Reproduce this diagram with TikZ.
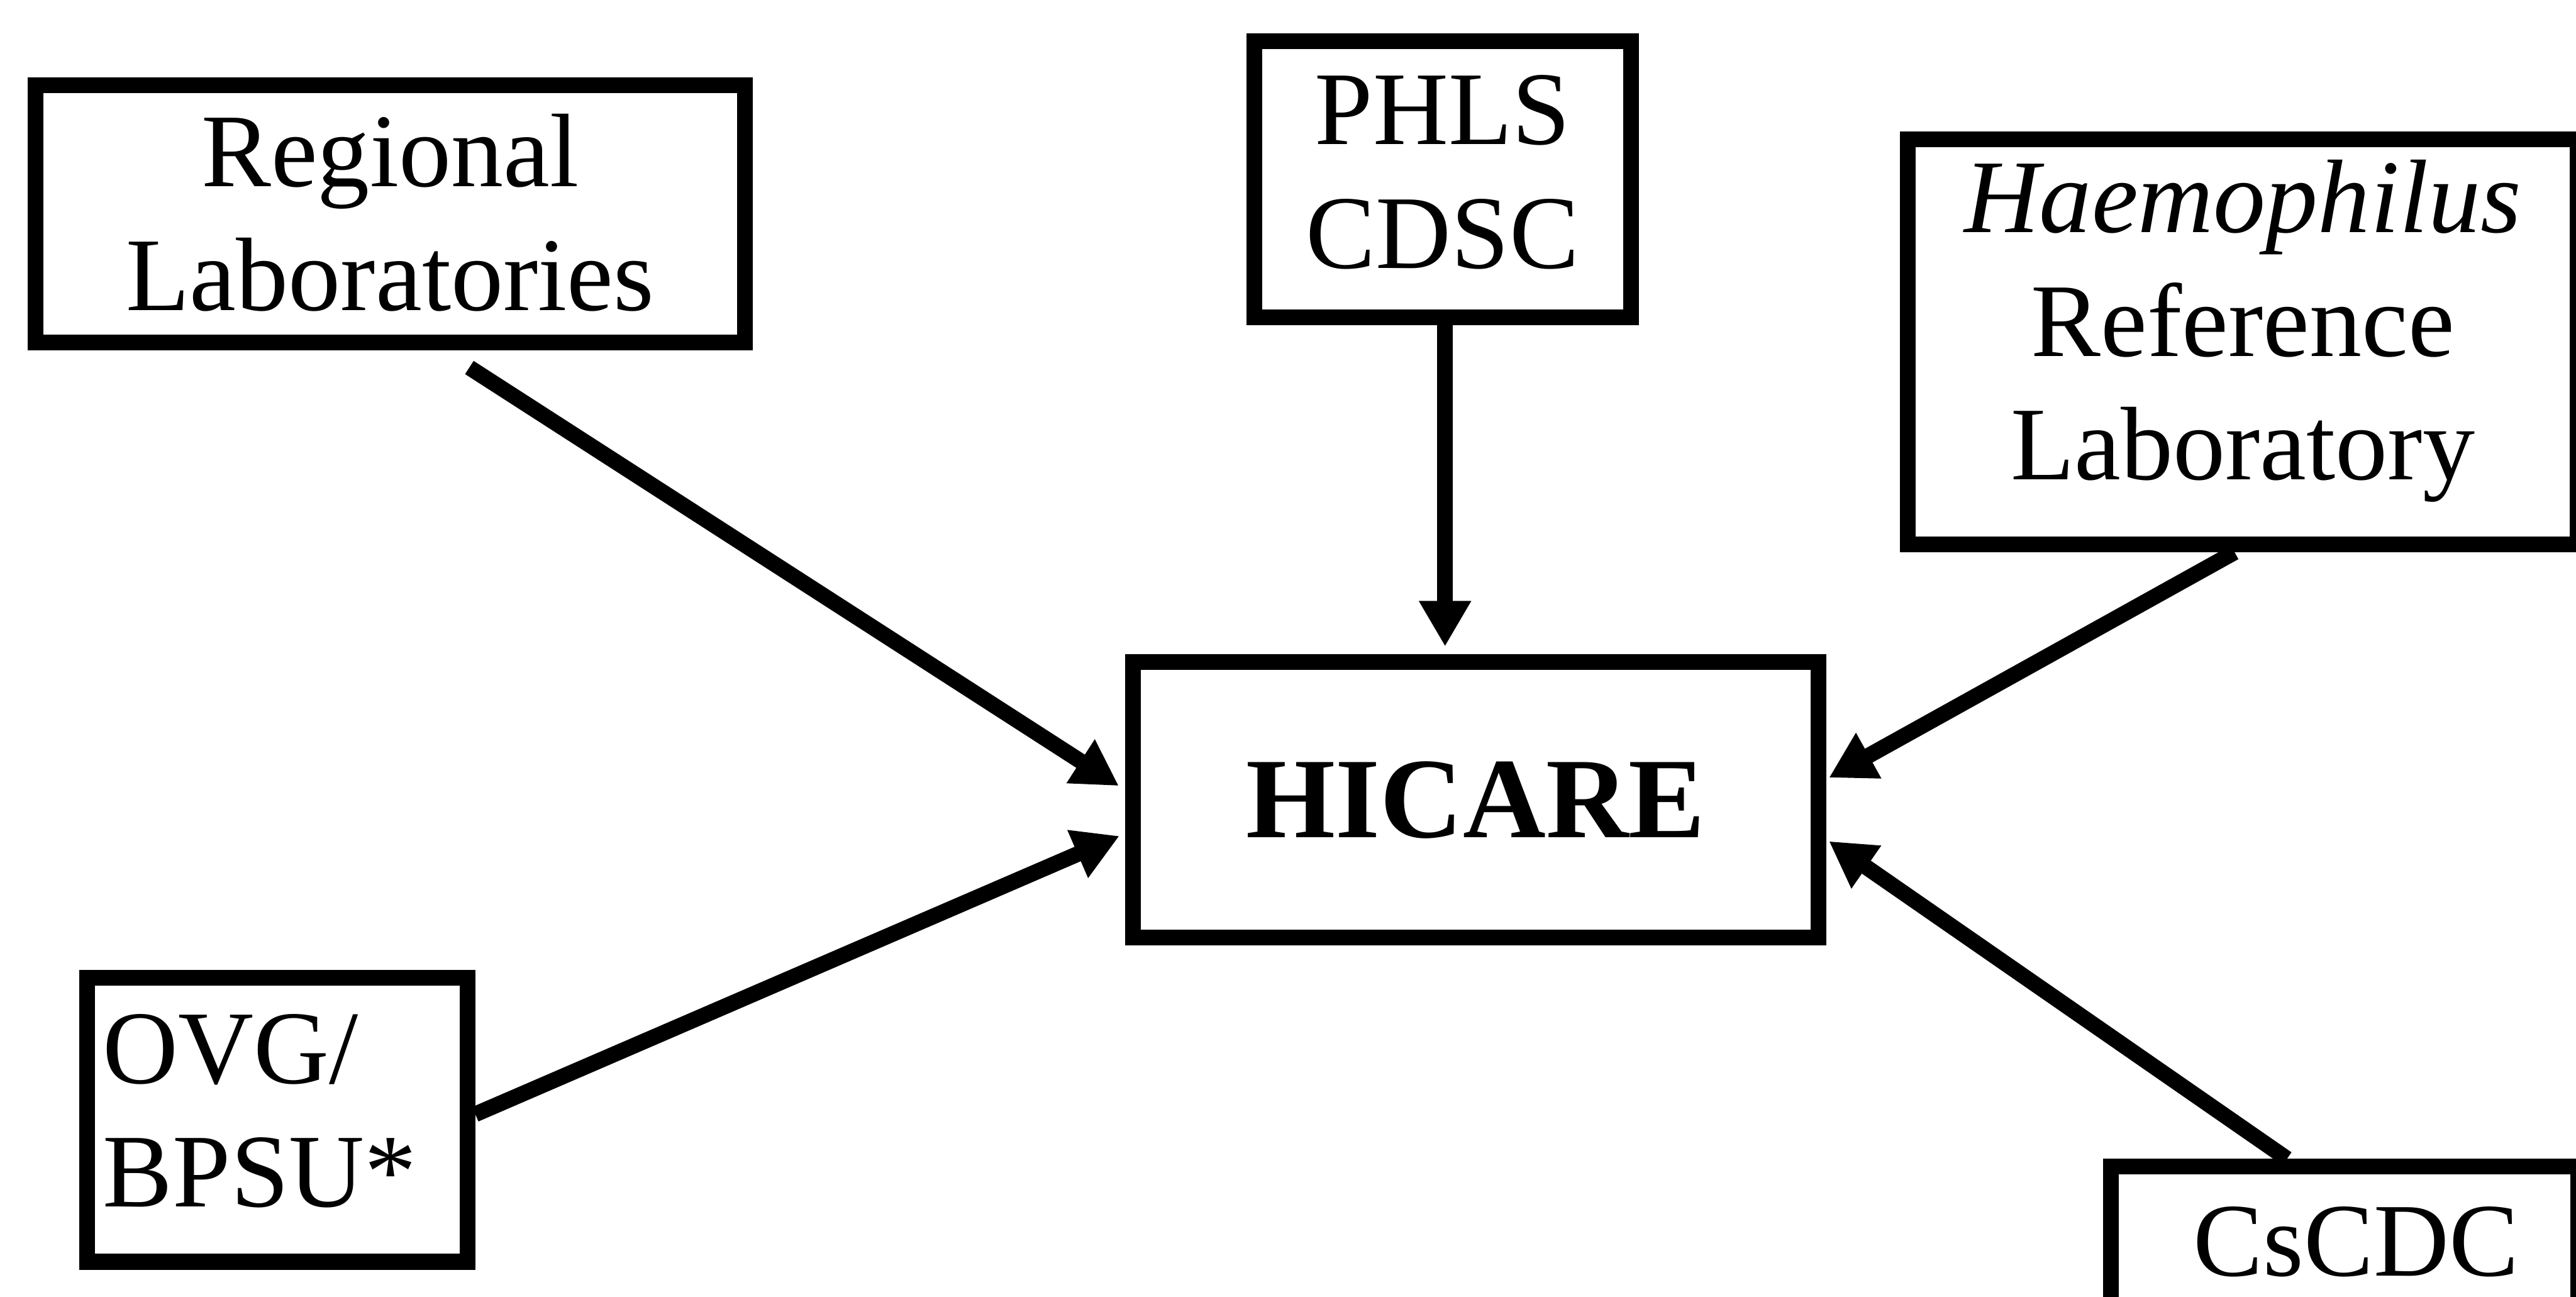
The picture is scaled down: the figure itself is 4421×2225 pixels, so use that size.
\documentclass[tikz,border=0pt]{standalone}
\usepackage{fontspec}
\setmainfont{Liberation Serif}
\usetikzlibrary{arrows.meta,calc}
\newcommand{\lowpad}[1]{\rule[-#1]{0pt}{0pt}}
\begin{document}
\begin{tikzpicture}[x=0.01cm,y=-0.01cm,
  box/.style={draw, line width=0.27cm, inner sep=0pt, align=center,
    font=\fontsize{51}{60.3}\selectfont},
  arr/.style={line width=0.27cm, -{Triangle[length=0.78cm,width=0.84cm]}}]
\useasboundingbox (0,0) rectangle (4421,2225);
\clip (0,0) rectangle (4421,2225);
\fill[white] (0,0) rectangle (4421,2225);

\node[box, minimum width=12.17cm, minimum height=4.42cm] (reg) at (669.5,367) {Regional\\Laboratories\lowpad{0.06cm}};
\node[box, minimum width=6.46cm, minimum height=4.73cm] (phls) at (2476,307.5) {PHLS\\CDSC\lowpad{0.26cm}};
\node[box, minimum width=11.48cm, minimum height=6.95cm] (haem) at (3849,586.5) {\textit{Haemophilus}\\Reference\\Laboratory\lowpad{0.75cm}};
\node[box, minimum width=11.76cm, minimum height=4.73cm, text height=1.3cm, text depth=0pt, font=\fontsize{56}{66}\selectfont\bfseries] (hic) at (2533,1372.5) {HICARE};
\node[box, minimum width=6.52cm, minimum height=4.87cm, text width=5.98cm, align=left] (ovg) at (476,1921.5) {OVG/\\BPSU*\lowpad{0.32cm}};
\node[box, minimum width=8.01cm, minimum height=2.54cm, text height=1.2cm, text depth=0pt] (cs) at (4023.5,2129) {\hspace*{0.4cm}CsCDC};

\draw[arr] ($(reg.south)+(136,29)$) -- ($(hic.west)+(-11,-24)$);
\draw[arr] ($(phls.south)+(4,0)$) -- ($(hic.north)+(-53,-13)$);
\draw[arr] ($(haem.south)+(-14,0)$) -- ($(hic.east)+(4,-38)$);
\draw[arr] ($(ovg.east)+(0,-9.5)$) -- ($(hic.west)+(-10,62)$);
\draw[arr] ($(cs.north)+(-98.5,0)$) -- ($(hic.east)+(4,71)$);
\end{tikzpicture}
\end{document}
